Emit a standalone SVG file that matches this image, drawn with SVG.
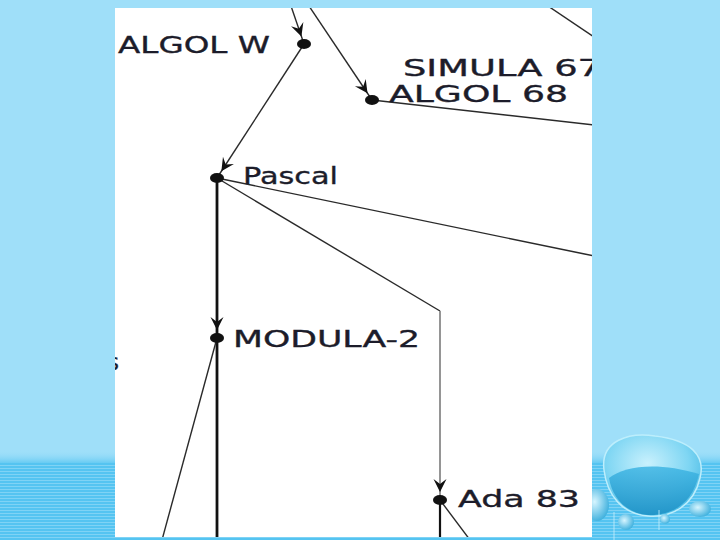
<svg xmlns="http://www.w3.org/2000/svg" width="720" height="540" viewBox="0 0 720 540">
  <style>
    .lbl { font-family: "DejaVu Sans", "Liberation Sans", sans-serif; font-size: 23px; fill: #1c1c2a; stroke: #1c1c2a; stroke-width: 0.35; }
    .edge { fill: none; stroke: #2a2a2a; stroke-width: 1.4; }
    .gray { stroke: #8a8a8a; stroke-width: 1.8; }
    .thick { stroke: #111; stroke-width: 2.8; }
    .dot { fill: #111; }
  </style>
  <defs>
    <pattern id="stripes" width="4" height="3" patternUnits="userSpaceOnUse">
      <rect width="4" height="3" fill="#55c4f1"/>
      <rect width="4" height="1" fill="#7fd3f5"/>
    </pattern>
    <linearGradient id="fade" x1="0" y1="0" x2="0" y2="1">
      <stop offset="0" stop-color="#9fdff9" stop-opacity="0"/>
      <stop offset="1" stop-color="#5ec8f2"/>
    </linearGradient>
    <radialGradient id="drop" cx="0.45" cy="0.35" r="0.7">
      <stop offset="0" stop-color="#c9f1fd"/>
      <stop offset="0.6" stop-color="#7fd6f3"/>
      <stop offset="1" stop-color="#3eb5e2"/>
    </radialGradient>
    <linearGradient id="dropLow" x1="0" y1="0" x2="0" y2="1">
      <stop offset="0" stop-color="#3fb6e4"/>
      <stop offset="1" stop-color="#1c8fc4"/>
    </linearGradient>
    <radialGradient id="bub" cx="0.4" cy="0.4" r="0.7">
      <stop offset="0" stop-color="#d6f5ff"/>
      <stop offset="1" stop-color="#2fa9da"/>
    </radialGradient>
    <marker id="arr" viewBox="-14 -7 16 14" refX="8" refY="0" markerWidth="16" markerHeight="14" markerUnits="userSpaceOnUse" orient="auto">
      <path d="M0,0 L-13,-6.5 L-8,0 L-13,6.5 Z" fill="#111"/>
    </marker>
    <clipPath id="page">
      <rect x="115" y="8" width="477" height="529"/>
    </clipPath>
  </defs>

  <!-- background -->
  <rect x="0" y="0" width="720" height="540" fill="#9fdff9"/>
  <rect x="0" y="450" width="720" height="14" fill="url(#fade)"/>
  <rect x="0" y="463" width="720" height="77" fill="url(#stripes)"/>
  <g id="bubbles">
    <ellipse cx="597" cy="505" rx="12" ry="16" fill="url(#bub)"/>
    <path d="M604,470 C600,440 630,432 655,436 C690,440 706,455 700,478 C694,505 672,518 648,516 C622,514 607,495 604,470 Z" fill="url(#drop)" stroke="#bdeefc" stroke-width="1.5"/>
    <path d="M609,478 C625,465 660,462 699,474 C693,503 672,516 648,515 C625,513 612,497 609,478 Z" fill="url(#dropLow)" opacity="0.85"/>
    <ellipse cx="626" cy="522" rx="8" ry="8" fill="url(#bub)"/>
    <ellipse cx="665" cy="519" rx="5" ry="5" fill="url(#bub)"/>
    <ellipse cx="700" cy="509" rx="11" ry="8" fill="url(#bub)"/>
    <line x1="614" y1="512" x2="614" y2="540" stroke="#c8f0fc" stroke-width="0.8"/>
    <line x1="659" y1="510" x2="659" y2="530" stroke="#c8f0fc" stroke-width="0.8"/>
  </g>

  <!-- page -->
  <rect x="115" y="8" width="477" height="529" fill="#ffffff"/>

  <g clip-path="url(#page)">
    <g id="connectors">
      <path class="edge" d="M291,6 L304,44" marker-end="url(#arr)"/>
      <path class="edge" d="M309,6 L372,100" marker-end="url(#arr)"/>
      <path class="edge" d="M548,6 L594,37"/>
      <path class="edge" d="M372,100 L594,125"/>
      <path class="edge" d="M304,44 L217,178" marker-end="url(#arr)"/>
      <path class="edge" d="M217,178 L594,256"/>
      <path class="edge" d="M217,178 L440,311"/>
      <path class="edge gray" d="M440,311 L440,500" marker-end="url(#arr)"/>
      <path class="edge thick" d="M217,178 L217,338" marker-end="url(#arr)"/>
      <path class="edge thick" d="M217,338 L217,540"/>
      <path class="edge" d="M217,338 L162,540"/>
      <path class="edge thick" d="M440,500 L440,540" style="stroke-width:2.2"/>
      <path class="edge" d="M440,500 L470,540"/>
    </g>

    <g id="n-algolw">
      <ellipse class="dot" cx="304" cy="44" rx="7" ry="5"/>
      <text class="lbl" x="118" y="53" textLength="152" lengthAdjust="spacingAndGlyphs">ALGOL W</text>
    </g>
    <g id="n-simula67">
      <text class="lbl" x="403" y="76" textLength="198" lengthAdjust="spacingAndGlyphs">SIMULA 67</text>
    </g>
    <g id="n-algol68">
      <ellipse class="dot" cx="372" cy="100" rx="7" ry="5"/>
      <text class="lbl" x="389" y="102" textLength="179" lengthAdjust="spacingAndGlyphs">ALGOL 68</text>
    </g>
    <g id="n-pascal">
      <ellipse class="dot" cx="217" cy="178" rx="7" ry="5"/>
      <text class="lbl" x="243" y="184" textLength="95" lengthAdjust="spacingAndGlyphs">Pascal</text>
    </g>
    <g id="n-modula2">
      <ellipse class="dot" cx="217" cy="338" rx="7" ry="5"/>
      <text class="lbl" x="233" y="347" textLength="187" lengthAdjust="spacingAndGlyphs">MODULA-2</text>
    </g>
    <g id="n-ada83">
      <ellipse class="dot" cx="440" cy="500" rx="7" ry="5"/>
      <text class="lbl" x="458" y="507" textLength="122" lengthAdjust="spacingAndGlyphs">Ada 83</text>
    </g>
    <g id="n-left">
      <text class="lbl" x="107" y="370">s</text>
    </g>
  </g>
</svg>
